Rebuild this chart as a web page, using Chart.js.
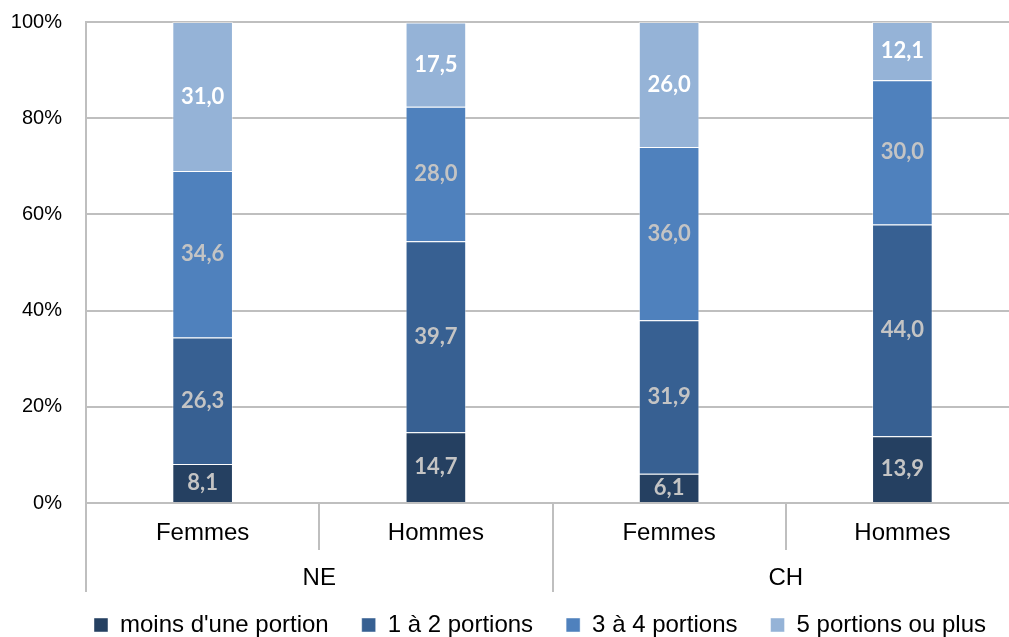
<!DOCTYPE html>
<html><head><meta charset="utf-8">
<script src="https://cdn.jsdelivr.net/npm/chart.js@4"></script>
<style>html,body{margin:0;padding:0;background:#fff;overflow:hidden}#wrap{width:1019px;height:637px}</style>
</head><body><div id="wrap"><canvas id="c"></canvas></div>
<script>
const categories = ['Femmes', 'Hommes', 'Femmes', 'Hommes'];
const groups = ['NE', 'CH'];
const seriesNames = ["moins d'une portion", '1 à 2 portions', '3 à 4 portions', '5 portions ou plus'];
const moinsUne = [8.1, 14.7, 6.1, 13.9];
const unADeux = [26.3, 39.7, 31.9, 44.0];
const troisAQuatre = [34.6, 28.0, 36.0, 30.0];
const cinqPlus = [31.0, 17.5, 26.0, 12.1];
const yTicks = [0, 20, 40, 60, 80, 100];

const colors = ['#254061', '#376092', '#4F81BD', '#95B3D7'];
const labelColors = ['#C4C4C4', '#C4C4C4', '#C4C4C4', '#FFFFFF'];
const values = [moinsUne, unADeux, troisAQuatre, cinqPlus];
const GRID = '#BFBFBF';
const AXFONT = '"Liberation Sans", Arial, sans-serif';

const dataLabels = {
  id: 'dataLabels',
  afterDatasetsDraw(chart) {
    const ctx = chart.ctx;
    ctx.save();
    ctx.font = 'bold 22px Lato, "Open Sans", sans-serif';
    ctx.textAlign = 'center';
    ctx.textBaseline = 'middle';
    chart.data.datasets.forEach((ds, i) => {
      const meta = chart.getDatasetMeta(i);
      meta.data.forEach((el, j) => {
        const v = ds.data[j];
        ctx.fillStyle = labelColors[i];
        ctx.fillText(v.toFixed(1).replace('.', ','), el.x, (el.y + el.base) / 2);
      });
    });
    ctx.restore();
  }
};

new Chart(document.getElementById('c'), {
  type: 'bar',
  data: {
    labels: categories,
    datasets: values.map((v, i) => ({
      label: seriesNames[i],
      data: v,
      backgroundColor: colors[i],
      borderColor: 'rgba(255,255,255,0.45)',
      borderWidth: 1,
      categoryPercentage: 1,
      barPercentage: 0.26,
      xAxisID: 'x'
    }))
  },
  options: {
    responsive: true,
    maintainAspectRatio: false,
    animation: false,
    layout: { padding: { top: 22, left: 11, right: 0, bottom: -10 } },
    plugins: {
      tooltip: { enabled: false },
      legend: {
        position: 'bottom',
        align: 'end',
        labels: {
          font: { family: AXFONT, size: 24 },
          color: '#000',
          boxWidth: 14,
          boxHeight: 14,
          padding: 33
        }
      }
    },
    scales: {
      x: {
        stacked: true,
        grid: { offset: true, drawOnChartArea: false, tickLength: 47, color: GRID, lineWidth: 2 },
        border: { display: true, color: GRID, width: 2 },
        ticks: { font: { family: AXFONT, size: 24 }, color: '#000', padding: -31, maxRotation: 0, autoSkip: false },
        afterFit(s) { s.height = 47; s.paddingLeft = 0; s.paddingRight = 0; }
      },
      x2: {
        type: 'category',
        labels: groups,
        position: 'bottom',
        offset: true,
        grid: { offset: true, drawOnChartArea: false, tickLength: 42, color: GRID, lineWidth: 2 },
        border: { display: false },
        ticks: { font: { family: AXFONT, size: 24 }, color: '#000', mirror: true, padding: -42.4, maxRotation: 0, autoSkip: false },
        afterFit(s) { s.height = 30; s.paddingLeft = 0; s.paddingRight = 0; }
      },
      y: {
        stacked: true,
        min: 0,
        max: 100,
        afterBuildTicks(axis) { axis.ticks = yTicks.map(v => ({ value: v })); },
        grid: { color: GRID, lineWidth: 2, drawTicks: false },
        border: { display: true, color: GRID, width: 2 },
        ticks: { font: { family: AXFONT, size: 20 }, color: '#000', padding: 24, callback: v => v + '%' },
        afterFit(s) { s.width = 75; s.paddingTop = 0; s.paddingBottom = 0; }
      }
    }
  },
  plugins: [dataLabels]
});
</script>
</body></html>
